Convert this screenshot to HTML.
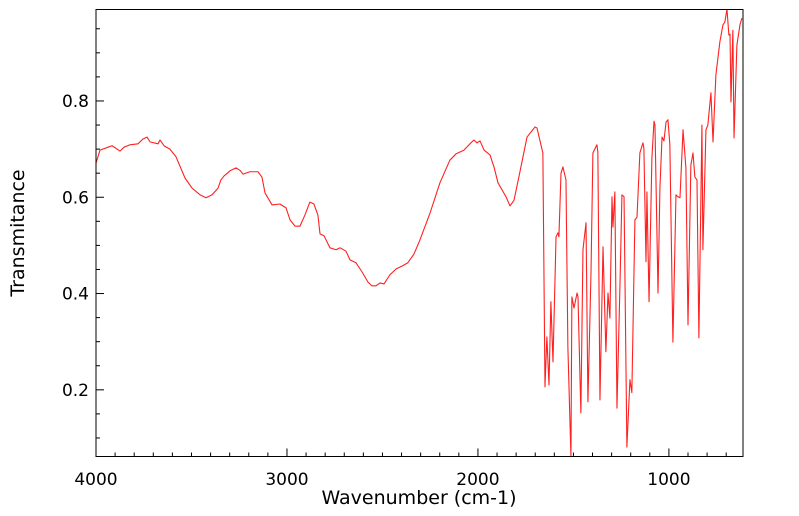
<!DOCTYPE html>
<html><head><meta charset="utf-8"><style>
html,body{margin:0;padding:0;background:#fff;}
svg{display:block;font-family:"DejaVu Sans","Liberation Sans",sans-serif;}
</style></head><body>
<svg id="chart" width="799" height="516" viewBox="0 0 799 516" xmlns="http://www.w3.org/2000/svg">
<rect x="0" y="0" width="799" height="516" fill="#fff"/>
<g id="ticks"></g>
<g id="series"></g>
<rect x="96" y="9.5" width="647" height="447" fill="none" stroke="#000" stroke-width="1"/>
<text x="419" y="504" font-size="19" text-anchor="middle">Wavenumber (cm-1)</text>
<text x="24" y="233" font-size="19" text-anchor="middle" transform="rotate(-90 24 233)">Transmitance</text>
</svg>
<script>
const wavenumbers = [4000,3979,3937,3916,3874,3853,3822,3780,3754,3733,3717,3675,3665,3644,3613,3581,3534,3497,3455,3424,3393,3361,3346,3330,3298,3267,3246,3230,3194,3152,3131,3115,3078,3037,3005,2984,2958,2932,2906,2880,2859,2838,2827,2806,2775,2743,2722,2691,2670,2639,2607,2576,2555,2534,2513,2492,2461,2429,2398,2367,2335,2304,2251,2199,2147,2115,2073,2042,2021,2005,1989,1968,1937,1916,1895,1853,1832,1811,1790,
1780,1743,1701,1691,1660,1649,1639,1628,1618,1607,1591,1581,1576,1565,1555,1539,1529,1513,1508,1497,1481,1476,1461,1450,1434,1424,1408,1398,1377,1372,1361,1345,1330,1319,1309,1298,1293,1283,1272,1256,1246,1235,1220,1204,1194,1178,1167,1152,
1136,1131,1120,1115,1104,1089,1078,1073,1057,1047,1036,1026,1015,1005,995,979,963,953,942,926,911,900,885,874,864,853,843,827,822,806,796,780,769,754,733,717,707,696,686,680,675,665,659,644,628,618];
const transmittance = [0.671,0.698,0.704,0.707,0.696,0.704,0.709,0.711,0.721,0.725,0.715,0.711,0.719,0.707,0.700,0.684,0.640,0.619,0.605,0.599,0.605,0.619,0.636,0.644,0.655,0.661,0.656,0.648,0.653,0.653,0.642,0.609,0.584,0.586,0.578,0.553,0.540,0.540,0.563,0.590,0.586,0.563,0.524,0.520,0.495,0.491,0.495,0.488,0.470,0.464,0.445,0.424,0.416,0.416,0.422,0.420,0.439,0.451,0.457,0.464,0.482,0.511,0.567,0.630,0.677,0.690,0.698,0.711,0.719,0.713,0.717,0.698,0.688,0.663,0.630,0.601,0.582,0.594,0.634,
0.653,0.725,0.746,0.744,0.692,0.206,0.310,0.210,0.383,0.258,0.518,0.526,0.518,0.650,0.663,0.636,0.289,0.061,0.393,0.370,0.401,0.393,0.152,0.491,0.547,0.175,0.443,0.692,0.709,0.694,0.179,0.497,0.279,0.401,0.349,0.601,0.538,0.611,0.162,0.422,0.605,0.601,0.081,0.221,0.194,0.553,0.559,0.692,
0.713,0.702,0.466,0.611,0.383,0.682,0.758,0.750,0.401,0.619,0.725,0.717,0.756,0.761,0.709,0.299,0.605,0.601,0.599,0.740,0.661,0.335,0.667,0.692,0.642,0.636,0.308,0.750,0.491,0.740,0.750,0.817,0.715,0.854,0.923,0.958,0.964,0.991,0.937,0.939,0.798,0.947,0.723,0.916,0.958,0.972];
const xTickValues = [4000,3000,2000,1000];
const xTickLabels = ["4000","3000","2000","1000"];
const yTickValues = [0.2,0.4,0.6,0.8];
const yTickLabels = ["0.2","0.4","0.6","0.8"];

const X0=96, X1=743, Y0=456.5, Y1=9.5;
const xMax=4000, xMin=612, yMin=0.0615, yMax=0.990;
function sx(v){return X0+(xMax-v)/(xMax-xMin)*(X1-X0);}
function sy(v){return Y0-(v-yMin)/(yMax-yMin)*(Y0-Y1);}
const NS="http://www.w3.org/2000/svg";
const tg=document.getElementById('ticks');
function line(x1,y1,x2,y2,name){
  const l=document.createElementNS(NS,'line');
  l.setAttribute('x1',x1);l.setAttribute('y1',y1);l.setAttribute('x2',x2);l.setAttribute('y2',y2);
  l.setAttribute('stroke','#000');l.setAttribute('stroke-width','1');
  
  
  tg.appendChild(l);
}
for(let w=4000; w>=xMin; w-=100){
  const major = (w%1000===0);
  const x=sx(w);
  line(x,Y0,x,Y0-(major?8:4),'x-tick');
}
for(let k=2;k<=19;k++){
  const v=k*0.05;
  if(v<yMin||v>yMax) continue;
  const major=(k%4===0);
  const y=sy(v);
  line(X0,y,X0+(major?8:4),y,'y-tick');
}
xTickValues.forEach((v,i)=>{
  const t=document.createElementNS(NS,'text');
  t.setAttribute('x',sx(v));t.setAttribute('y',485);
  t.setAttribute('font-size','17');t.setAttribute('text-anchor','middle');
  t.textContent=xTickLabels[i];
  
  
  tg.appendChild(t);
});
yTickValues.forEach((v,i)=>{
  const t=document.createElementNS(NS,'text');
  t.setAttribute('x',89);t.setAttribute('y',sy(v)+6);
  t.setAttribute('font-size','17');t.setAttribute('text-anchor','end');
  t.textContent=yTickLabels[i];
  
  
  tg.appendChild(t);
});
const sg=document.getElementById('series');
let d='';
wavenumbers.forEach((w,i)=>{d+=(i?'L':'M')+sx(w).toFixed(2)+' '+sy(transmittance[i]).toFixed(2);});
const p=document.createElementNS(NS,'path');
p.setAttribute('d',d);p.setAttribute('fill','none');p.setAttribute('stroke','#ff2020');
p.setAttribute('stroke-width','1.1');p.setAttribute('stroke-linejoin','round');


const cp=document.createElementNS(NS,'clipPath');cp.setAttribute('id','clip');
const cr=document.createElementNS(NS,'rect');cr.setAttribute('x',X0);cr.setAttribute('y',Y1);cr.setAttribute('width',X1-X0);cr.setAttribute('height',Y0-Y1);
cp.appendChild(cr);document.getElementById('chart').appendChild(cp);
p.setAttribute('clip-path','url(#clip)');
sg.appendChild(p);
</script>
</body></html>
